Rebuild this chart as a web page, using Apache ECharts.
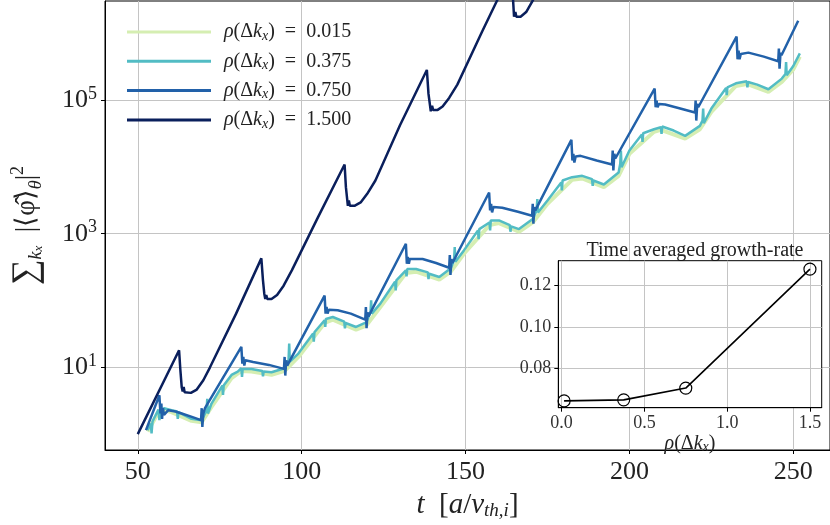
<!DOCTYPE html>
<html>
<head>
<meta charset="utf-8">
<script src="https://cdn.jsdelivr.net/npm/echarts@6/dist/echarts.min.js"></script>
<style>
  html, body { margin: 0; padding: 0; background: #fff; }
  #chart { width: 830px; height: 525px; }
</style>
</head>
<body>
<div id="chart"></div>
<script>
// values: [t, log10(sum |<phi>|^2)]
const rho0015 = [
  [53.0, 0.03], [56.3, 0.32], [58.0, 0.35], [60.3, 0.32], [66.4, 0.19], [69.5, 0.17],
  [72.5, 0.40], [78.6, 0.83], [81.6, 0.94], [84.7, 0.93], [90.8, 0.88], [94.8, 0.94],
  [99.0, 1.15], [107.0, 1.66], [109.5, 1.71], [116.6, 1.56], [119.7, 1.62], [124.0, 1.90],
  [131.8, 2.41], [134.9, 2.43], [142.0, 2.31], [145.5, 2.43], [149.5, 2.70], [157.3, 3.13],
  [160.2, 3.16], [166.3, 3.03], [170.5, 3.17], [175.0, 3.45], [182.5, 3.81], [185.6, 3.83],
  [192.2, 3.70], [196.7, 3.87], [200.0, 4.20], [207.5, 4.53], [209.6, 4.56], [217.0, 4.43],
  [221.5, 4.57], [225.0, 4.83], [232.5, 5.22], [235.8, 5.25], [242.4, 5.13], [246.5, 5.28],
  [250.0, 5.47], [252.0, 5.66]
];
const rho0375 = [
  [53.0, 0.05], [54.0, 0.15], [54.2, 0.00], [54.5, 0.18], [56.3, 0.36], [56.6, 0.20], [56.9, 0.33],
  [58.0, 0.38], [60.3, 0.35], [62.0, 0.33], [62.2, 0.22], [62.4, 0.32], [66.4, 0.22], [69.5, 0.20],
  [70.0, 0.25], [71.0, 0.35], [71.2, 0.52], [71.4, 0.30], [72.5, 0.45], [75.8, 0.72], [76.0, 0.58],
  [76.2, 0.72], [78.6, 0.88], [80.5, 0.93], [81.6, 0.98], [81.8, 0.85], [82.0, 0.97], [84.7, 0.97],
  [88.0, 0.94], [88.2, 0.86], [88.4, 0.93], [90.8, 0.92], [94.8, 0.98], [96.0, 1.10], [96.2, 1.35],
  [96.4, 1.08], [99.0, 1.20], [103.5, 1.50], [103.7, 1.38], [103.9, 1.52], [107.0, 1.70], [107.2, 1.60],
  [107.4, 1.72], [109.5, 1.75], [113.0, 1.68], [113.2, 1.58], [113.4, 1.66], [116.6, 1.60], [119.7, 1.67],
  [121.0, 1.82], [121.2, 2.00], [121.4, 1.80], [124.0, 1.95], [128.5, 2.28], [128.7, 2.15], [128.9, 2.30],
  [131.8, 2.45], [132.0, 2.36], [132.2, 2.47], [134.9, 2.47], [138.5, 2.42], [138.7, 2.32], [138.9, 2.40],
  [142.0, 2.35], [145.5, 2.48], [146.5, 2.60], [146.7, 2.80], [146.9, 2.58], [149.5, 2.75], [153.8, 3.05],
  [154.0, 2.92], [154.2, 3.07], [157.3, 3.17], [157.5, 3.05], [157.7, 3.20], [160.2, 3.20], [163.5, 3.13],
  [163.7, 3.03], [163.9, 3.11], [166.3, 3.07], [170.5, 3.22], [171.7, 3.35], [171.9, 3.52], [172.1, 3.32],
  [175.0, 3.50], [179.2, 3.77], [179.4, 3.65], [179.6, 3.80], [182.5, 3.85], [185.6, 3.87], [188.6, 3.82],
  [188.8, 3.72], [189.0, 3.80], [192.2, 3.74], [196.7, 3.92], [197.2, 4.05], [197.4, 4.25], [197.6, 4.00],
  [200.0, 4.25], [203.8, 4.49], [204.0, 4.38], [204.2, 4.51], [207.5, 4.57], [209.6, 4.60], [209.8, 4.50],
  [210.0, 4.61], [213.5, 4.55], [217.0, 4.47], [221.5, 4.62], [222.3, 4.70], [222.5, 4.88], [222.7, 4.66],
  [225.0, 4.88], [229.5, 5.19], [229.7, 5.08], [229.9, 5.20], [232.5, 5.26], [235.8, 5.29], [236.0, 5.20],
  [236.2, 5.28], [239.0, 5.24], [242.4, 5.17], [246.5, 5.33], [247.6, 5.40], [247.8, 5.58], [248.0, 5.38],
  [250.0, 5.52], [252.0, 5.71]
];
const rho0750 = [
  [52.5, 0.05], [56.6, 0.575], [56.9, 0.30], [57.2, 0.45], [57.4, 0.22], [57.7, 0.38], [58.0, 0.28],
  [59.3, 0.35], [61.5, 0.33], [63.4, 0.30], [66.5, 0.25], [69.3, 0.20], [69.5, 0.38], [69.7, 0.10],
  [70.0, 0.30], [70.5, 0.38], [81.6, 1.30], [81.9, 1.05], [82.2, 1.15], [82.5, 1.02], [82.8, 1.10],
  [85.2, 1.075], [90.0, 1.03], [94.6, 0.97], [94.8, 1.15], [95.0, 0.87], [95.3, 1.10], [95.6, 1.02],
  [107.0, 2.07], [107.3, 1.80], [107.6, 1.90], [107.9, 1.80], [108.3, 1.86], [111.0, 1.85], [115.0, 1.80],
  [119.4, 1.71], [119.6, 1.90], [119.8, 1.58], [120.1, 1.82], [120.4, 1.76], [131.8, 2.85], [132.1, 2.55],
  [132.4, 2.65], [132.7, 2.55], [133.0, 2.62], [136.9, 2.62], [141.0, 2.56], [145.0, 2.49], [145.2, 2.68],
  [145.4, 2.38], [145.7, 2.62], [146.0, 2.56], [157.2, 3.62], [157.5, 3.35], [157.8, 3.45], [158.1, 3.32],
  [158.5, 3.40], [161.2, 3.39], [166.0, 3.33], [170.3, 3.27], [170.5, 3.45], [170.7, 3.15], [171.0, 3.40],
  [171.3, 3.35], [182.3, 4.41], [182.6, 4.10], [182.9, 4.20], [183.2, 4.07], [183.6, 4.16], [185.1, 4.17],
  [190.0, 4.10], [194.7, 4.04], [194.9, 4.25], [195.1, 3.95], [195.4, 4.20], [195.7, 4.13], [207.7, 5.18],
  [208.0, 4.90], [208.3, 5.00], [208.6, 4.90], [209.0, 4.95], [210.9, 4.94], [215.5, 4.88], [220.0, 4.82],
  [220.2, 5.00], [220.4, 4.70], [220.7, 4.95], [221.0, 4.90], [232.7, 5.96], [233.0, 5.62], [233.3, 5.75],
  [233.6, 5.62], [234.0, 5.70], [236.3, 5.72], [241.0, 5.66], [245.4, 5.59], [245.6, 5.78], [245.8, 5.48],
  [246.1, 5.72], [246.4, 5.68], [251.5, 6.20]
];
const rho1500 = [
  [50.0, -0.01], [62.6, 1.25], [63.0, 0.95], [63.4, 0.70], [63.7, 0.63], [64.0, 0.70], [64.3, 0.62],
  [66.2, 0.61], [68.0, 0.66], [70.0, 0.80], [72.0, 0.99], [80.0, 1.80], [87.7, 2.63], [88.2, 2.30],
  [88.6, 2.10], [88.9, 2.02], [89.2, 2.08], [89.5, 2.02], [90.8, 2.02], [92.5, 2.08], [94.5, 2.22],
  [97.0, 2.45], [105.0, 3.25], [113.1, 4.04], [113.5, 3.70], [114.1, 3.42], [114.4, 3.50], [114.7, 3.42],
  [116.1, 3.42], [118.0, 3.47], [120.0, 3.60], [122.5, 3.80], [130.0, 4.63], [138.2, 5.46], [138.7, 5.10],
  [139.4, 4.84], [139.8, 4.92], [140.1, 4.86], [141.5, 4.86], [143.0, 4.91], [145.0, 5.04], [147.5, 5.24],
  [155.0, 6.03], [159.7, 6.51], [164.0, 6.97], [164.4, 6.60], [164.8, 6.26], [165.2, 6.33], [165.5, 6.26],
  [166.8, 6.26], [168.5, 6.33], [170.5, 6.50], [175.0, 6.95]
];

const seriesNames = ['0.015', '0.375', '0.750', '1.500'];
const seriesColors = ['#d5eeb2', '#52bcc4', '#2261a9', '#0a1f5c'];
const seriesWidths = [4, 2.5, 2.5, 2.5];
const seriesData = [rho0015, rho0375, rho0750, rho1500];

const xTicks = [50, 100, 150, 200, 250];
const yTicks = [10, 1000, 100000];

// inset: time averaged growth-rate
const rhoValues = [0.015, 0.375, 0.75, 1.5];
const growthRate = [0.0642, 0.0647, 0.0704, 0.1280];
const insetXTicks = [0, 0.5, 1.0, 1.5];
const insetYTicks = [0.08, 0.10, 0.12];

const FONT = 'Liberation Serif';
const TXT = '#222';

const chart = echarts.init(document.getElementById('chart'));

const mainSeries = seriesData.map((d, i) => ({
  name: seriesNames[i],
  type: 'line',
  xAxisIndex: 0,
  yAxisIndex: 0,
  data: d.map(p => [p[0], Math.pow(10, p[1])]),
  showSymbol: false,
  clip: true,
  z: 2,
  lineStyle: { color: seriesColors[i], width: seriesWidths[i] },
  itemStyle: { color: seriesColors[i] }
}));

const option = {
  animation: false,
  backgroundColor: '#fff',
  title: {
    text: 'Time averaged growth-rate',
    left: 690,
    top: 236,
    textAlign: 'center',
    textStyle: { fontFamily: FONT, fontSize: 20, fontWeight: 'normal', color: TXT }
  },
  legend: {
    orient: 'vertical',
    left: 122,
    top: 17,
    icon: 'rect',
    itemWidth: 84,
    itemHeight: 3,
    itemGap: 8.3,
    data: seriesNames,
    formatter: name => `{i|ρ}{n|(Δ}{i|k}{s|x}{n|)  =  ${name}}`,
    textStyle: {
      fontFamily: FONT, fontSize: 20, color: TXT, padding: [0, 0, 0, 8],
      rich: {
        n: { fontFamily: FONT, fontSize: 20, color: TXT, lineHeight: 22 },
        i: { fontFamily: FONT, fontSize: 20, color: TXT, fontStyle: 'italic', lineHeight: 22 },
        s: { fontFamily: FONT, fontSize: 14, color: TXT, fontStyle: 'italic', lineHeight: 12, verticalAlign: 'bottom' }
      }
    }
  },
  grid: [
    { left: 105, top: 1, width: 727, height: 450.7, show: true, borderColor: '#000', borderWidth: 1, backgroundColor: 'transparent' },
    { left: 558.3, top: 260.7, width: 263.4, height: 147, show: true, borderColor: '#000', borderWidth: 1, backgroundColor: '#fff', z: 10 }
  ],
  xAxis: [
    {
      type: 'value', gridIndex: 0, min: 40, max: 261.2,
      name: '{i|t}{n|  [}{i|a}{n|/}{i|v}{s|th,i}{n|]}',
      nameLocation: 'middle', nameGap: 40,
      nameTextStyle: {
        rich: {
          n: { fontFamily: FONT, fontSize: 29, color: TXT, lineHeight: 30 },
          i: { fontFamily: FONT, fontSize: 29, color: TXT, fontStyle: 'italic', lineHeight: 30 },
          s: { fontFamily: FONT, fontSize: 19, color: TXT, fontStyle: 'italic', lineHeight: 16, verticalAlign: 'bottom' }
        }
      },
      axisLine: { show: true, onZero: false, lineStyle: { color: '#000', width: 1 } },
      axisTick: { show: true, customValues: xTicks, length: 4, lineStyle: { color: '#000' } },
      axisLabel: { customValues: xTicks, margin: 9, fontFamily: FONT, fontSize: 26, color: TXT },
      splitLine: { show: true, lineStyle: { color: '#c4c4c4', width: 1 } }
    },
    {
      type: 'value', gridIndex: 1, min: -0.02, max: 1.571, z: 11,
      name: '{i|ρ}{n|(Δ}{i|k}{s|x}{n|)}',
      nameLocation: 'middle', nameGap: 24,
      nameTextStyle: {
        rich: {
          n: { fontFamily: FONT, fontSize: 20, color: TXT, lineHeight: 22 },
          i: { fontFamily: FONT, fontSize: 20, color: TXT, fontStyle: 'italic', lineHeight: 22 },
          s: { fontFamily: FONT, fontSize: 14, color: TXT, fontStyle: 'italic', lineHeight: 12, verticalAlign: 'bottom' }
        }
      },
      axisLine: { show: true, onZero: false, lineStyle: { color: '#000', width: 1 } },
      axisTick: { show: true, customValues: insetXTicks, length: 4, lineStyle: { color: '#000' } },
      axisLabel: { customValues: insetXTicks, margin: 7, fontFamily: FONT, fontSize: 18, color: '#333', formatter: v => v.toFixed(1) },
      splitLine: { show: true, lineStyle: { color: '#c4c4c4', width: 1 } }
    }
  ],
  yAxis: [
    {
      type: 'log', logBase: 10, gridIndex: 0, min: 0.565, max: 3.13e6,
      name: '{sum|∑}{s|k}{ss|x}{n|  |⟨φ̂⟩}{s|θ}{n||}{sup|2}',
      nameLocation: 'middle', nameGap: 60, nameRotate: 90,
      nameTextStyle: {
        rich: {
          sum: { fontFamily: FONT, fontSize: 36, color: TXT, lineHeight: 36 },
          n: { fontFamily: FONT, fontSize: 27, color: TXT, lineHeight: 36 },
          s: { fontFamily: FONT, fontSize: 18, color: TXT, fontStyle: 'italic', lineHeight: 14, verticalAlign: 'bottom' },
          ss: { fontFamily: FONT, fontSize: 13, color: TXT, fontStyle: 'italic', lineHeight: 8, verticalAlign: 'bottom' },
          sup: { fontFamily: FONT, fontSize: 18, color: TXT, lineHeight: 20, verticalAlign: 'top' }
        }
      },
      axisLine: { show: true, onZero: false, lineStyle: { color: '#000', width: 1 } },
      axisTick: { show: true, customValues: yTicks, length: 4, lineStyle: { color: '#000' } },
      minorTick: { show: false },
      axisLabel: {
        customValues: yTicks, margin: 8,
        formatter: v => `{b|10}{e|${Math.round(Math.log10(v))}}`,
        rich: {
          b: { fontFamily: FONT, fontSize: 26, color: TXT, lineHeight: 30 },
          e: { fontFamily: FONT, fontSize: 18, color: TXT, lineHeight: 16, verticalAlign: 'top' }
        }
      },
      splitLine: { show: true, lineStyle: { color: '#c4c4c4', width: 1 } }
    },
    {
      type: 'value', gridIndex: 1, min: 0.0609, max: 0.1321, z: 11,
      axisLine: { show: true, onZero: false, lineStyle: { color: '#000', width: 1 } },
      axisTick: { show: true, customValues: insetYTicks, length: 4, lineStyle: { color: '#000' } },
      axisLabel: { customValues: insetYTicks, margin: 7, fontFamily: FONT, fontSize: 18, color: '#333', formatter: v => v.toFixed(2) },
      splitLine: { show: true, lineStyle: { color: '#c4c4c4', width: 1 } }
    }
  ],
  series: mainSeries.concat([
    {
      name: 'growth-rate',
      type: 'line',
      xAxisIndex: 1,
      yAxisIndex: 1,
      z: 12,
      data: rhoValues.map((r, i) => [r, growthRate[i]]),
      symbol: 'circle',
      symbolSize: 12,
      lineStyle: { color: '#000', width: 1.6 },
      itemStyle: { color: 'rgba(0,0,0,0)', borderColor: '#000', borderWidth: 1.2 }
    }
  ])
};

chart.setOption(option);
</script>
</body>
</html>
